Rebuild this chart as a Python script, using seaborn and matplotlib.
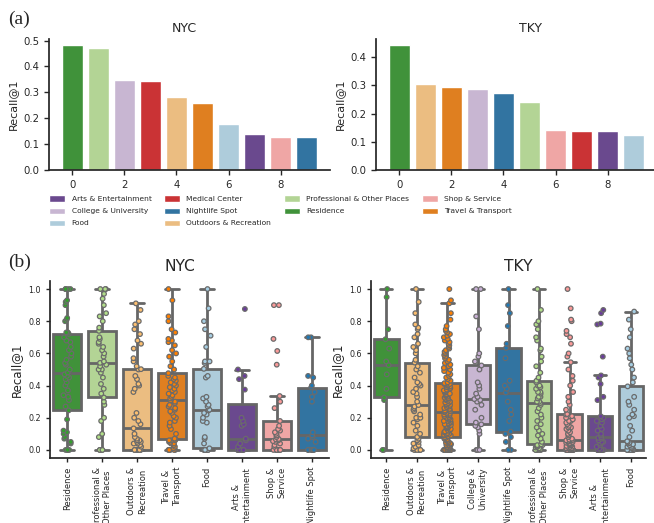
import numpy as np
import pandas as pd
import matplotlib
matplotlib.use("Agg")
import matplotlib.pyplot as plt
from matplotlib.patches import Patch
from matplotlib.ticker import MultipleLocator
import seaborn as sns


OUTPUT_PATH = "out.png"

PALETTE = {
    "Arts & Entertainment": "#6a3d9a",
    "College & University": "#cab2d6",
    "Food": "#a6cee3",
    "Medical Center": "#e31a1c",
    "Nightlife Spot": "#1f78b4",
    "Outdoors & Recreation": "#fdbf6f",
    "Professional & Other Places": "#b2df8a",
    "Residence": "#33a02c",
    "Shop & Service": "#fb9a99",
    "Travel & Transport": "#ff7f00",
}

# (a) mean Recall@1 per category, sorted
NYC_BAR_CATS = [
    "Residence", "Professional & Other Places", "College & University",
    "Medical Center", "Outdoors & Recreation", "Travel & Transport",
    "Food", "Arts & Entertainment", "Shop & Service", "Nightlife Spot",
]
NYC_BAR_VALUES = [0.484, 0.472, 0.349, 0.345, 0.283, 0.260, 0.179, 0.140, 0.129, 0.129]

TKY_BAR_CATS = [
    "Residence", "Outdoors & Recreation", "Travel & Transport",
    "College & University", "Nightlife Spot", "Professional & Other Places",
    "Shop & Service", "Medical Center", "Arts & Entertainment", "Food",
]
TKY_BAR_VALUES = [0.444, 0.306, 0.295, 0.288, 0.274, 0.242, 0.143, 0.139, 0.139, 0.125]

# (b) per-user Recall@1, NYC
NYC_BOX_ORDER = [
    "Residence", "Professional & Other Places", "Outdoors & Recreation",
    "Travel & Transport", "Food", "Arts & Entertainment",
    "Shop & Service", "Nightlife Spot",
]
NYC_BOX_LABELS = [
    "Residence", "Professional &\nOther Places", "Outdoors &\nRecreation",
    "Travel &\nTransport", "Food", "Arts &\nEntertainment",
    "Shop &\nService", "Nightlife Spot",
]
NYC_RESIDENCE = [
    0, 0, 0, 0, 0.04, 0.05, 0.07, 0.08, 0.10, 0.11, 0.12, 0.19, 0.246,
    0.27, 0.31, 0.33, 0.34, 0.37, 0.40, 0.42, 0.44, 0.45, 0.46, 0.47, 0.481,
    0.50, 0.53, 0.54, 0.56, 0.58, 0.60, 0.62, 0.64, 0.67, 0.68, 0.70, 0.721,
    0.73, 0.73, 0.80, 0.81, 0.82, 0.90, 0.92, 0.93, 1.0, 1.0, 1.0, 1.0,
]
NYC_PROFESSIONAL = [
    0, 0, 0, 0, 0.08, 0.10, 0.18, 0.20, 0.28, 0.30, 0.326,
    0.35, 0.38, 0.41, 0.45, 0.48, 0.50, 0.50, 0.52, 0.53, 0.541,
    0.55, 0.58, 0.60, 0.62, 0.64, 0.66, 0.67, 0.69, 0.70, 0.740,
    0.76, 0.80, 0.83, 0.85, 0.90, 0.94, 0.97, 1.0, 1.0, 1.0,
]
NYC_OUTDOORS = [
    0, 0, 0, 0, 0, 0, 0, 0, 0, 0, 0, 0, 0,
    0.02, 0.03, 0.04, 0.04, 0.05, 0.05, 0.06, 0.06, 0.07, 0.08, 0.10, 0.134,
    0.16, 0.18, 0.20, 0.23, 0.36, 0.38, 0.40, 0.41, 0.44, 0.46, 0.50, 0.502,
    0.52, 0.55, 0.57, 0.63, 0.66, 0.68, 0.72, 0.75, 0.78, 0.80, 0.87, 0.911,
]
NYC_TRAVEL = [
    0, 0, 0, 0, 0, 0.01, 0.02, 0.03, 0.04, 0.04, 0.05, 0.05, 0.06, 0.06,
    0.06, 0.07, 0.070,
    0.10, 0.13, 0.15, 0.17, 0.18, 0.20, 0.21, 0.23, 0.24, 0.25, 0.26, 0.27,
    0.28, 0.29, 0.30, 0.308,
    0.32, 0.33, 0.34, 0.35, 0.36, 0.37, 0.38, 0.39, 0.40, 0.41, 0.42, 0.43,
    0.44, 0.45, 0.46, 0.477,
    0.50, 0.52, 0.55, 0.58, 0.60, 0.62, 0.65, 0.67, 0.68, 0.69, 0.73, 0.75,
    0.80, 0.83, 0.93, 1.0,
]
NYC_FOOD = [
    0, 0, 0, 0, 0, 0, 0, 0, 0, 0.01,
    0.04, 0.07, 0.08, 0.17, 0.18, 0.20, 0.22, 0.23, 0.246,
    0.25, 0.27, 0.28, 0.30, 0.32, 0.33, 0.45, 0.46, 0.504,
    0.54, 0.55, 0.55, 0.64, 0.71, 0.75, 0.80, 0.88, 1.0,
]
NYC_ARTS = [
    0, 0, 0, 0, 0, 0, 0.02, 0.04, 0.06, 0.07,
    0.15, 0.16, 0.18, 0.20, 0.375, 0.44, 0.46, 0.50, 0.876,
]
NYC_SHOP = [
    0, 0, 0, 0, 0, 0, 0, 0, 0, 0.02, 0.03, 0.04, 0.05, 0.055, 0.06, 0.065,
    0.068, 0.08, 0.09, 0.10, 0.11, 0.12, 0.13, 0.15, 0.18,
    0.26, 0.30, 0.335, 0.53, 0.615, 0.69, 0.90, 0.90,
]
NYC_NIGHTLIFE = [
    0, 0, 0, 0, 0, 0, 0, 0.05, 0.07, 0.08, 0.091,
    0.11, 0.30, 0.33, 0.36, 0.388, 0.40, 0.45, 0.46, 0.70, 0.70,
]

# (b) per-user Recall@1, TKY
TKY_BOX_ORDER = [
    "Residence", "Outdoors & Recreation", "Travel & Transport",
    "College & University", "Nightlife Spot", "Professional & Other Places",
    "Shop & Service", "Arts & Entertainment", "Food",
]
TKY_BOX_LABELS = [
    "Residence", "Outdoors &\nRecreation", "Travel &\nTransport",
    "College &\nUniversity", "Nightlife Spot", "Professional &\nOther Places",
    "Shop &\nService", "Arts &\nEntertainment", "Food",
]
TKY_RESIDENCE = [0, 0, 0.31, 0.326, 0.38, 0.47, 0.527, 0.55, 0.63, 0.688, 0.75, 0.95, 1.0]
TKY_OUTDOORS = [
    0, 0, 0, 0, 0, 0, 0.01, 0.02, 0.03, 0.04, 0.05, 0.06, 0.07, 0.081,
    0.10, 0.12, 0.15, 0.17, 0.19, 0.20, 0.20, 0.22, 0.24, 0.25, 0.26, 0.27,
    0.279,
    0.30, 0.33, 0.35, 0.36, 0.38, 0.40, 0.41, 0.42, 0.45, 0.48, 0.50, 0.52,
    0.543,
    0.56, 0.60, 0.62, 0.64, 0.66, 0.70, 0.72, 0.75, 0.76, 0.78, 0.85, 0.92, 1.0,
]
TKY_TRAVEL = [
    0, 0, 0, 0, 0, 0, 0, 0, 0, 0, 0, 0, 0, 0, 0, 0, 0, 0, 0, 0,
    0.005, 0.01, 0.01, 0.015, 0.02, 0.02, 0.025, 0.03, 0.03, 0.035,
    0.04, 0.04, 0.045, 0.05, 0.05, 0.055, 0.06, 0.065, 0.07, 0.075,
    0.079,
    0.085, 0.09, 0.09, 0.095, 0.10, 0.10, 0.105, 0.11, 0.115, 0.12,
    0.12, 0.125, 0.13, 0.135, 0.14, 0.14, 0.145, 0.15, 0.155, 0.16,
    0.16, 0.165, 0.17, 0.175, 0.18, 0.18, 0.185, 0.19, 0.195, 0.20,
    0.20, 0.205, 0.21, 0.215, 0.22, 0.22, 0.225, 0.23, 0.235,
    0.238,
    0.24, 0.245, 0.25, 0.255, 0.26, 0.265, 0.27, 0.275, 0.28, 0.285,
    0.29, 0.295, 0.30, 0.30, 0.305, 0.31, 0.315, 0.32, 0.325, 0.33,
    0.335, 0.34, 0.345, 0.35, 0.355, 0.36, 0.365, 0.37, 0.375, 0.38,
    0.385, 0.39, 0.39, 0.395, 0.40, 0.40, 0.405, 0.41, 0.41,
    0.415,
    0.42, 0.43, 0.44, 0.45, 0.46, 0.47, 0.48, 0.49, 0.50, 0.51,
    0.52, 0.53, 0.54, 0.55, 0.56, 0.57, 0.58, 0.59, 0.60, 0.61,
    0.62, 0.63, 0.64, 0.65, 0.66, 0.67, 0.68, 0.69, 0.70, 0.71,
    0.72, 0.73, 0.74, 0.75, 0.77, 0.81, 0.85, 0.911, 0.93, 1.0,
]
TKY_COLLEGE = [
    0, 0, 0, 0.10, 0.12, 0.14, 0.15, 0.159, 0.17, 0.20, 0.25, 0.28, 0.30,
    0.31, 0.316, 0.33, 0.35, 0.38, 0.40, 0.42, 0.50, 0.525, 0.55, 0.58,
    0.60, 0.75, 0.83, 1.0, 1.0,
]
TKY_NIGHTLIFE = [
    0, 0, 0.05, 0.08, 0.10, 0.114, 0.18, 0.22, 0.25, 0.30, 0.357,
    0.38, 0.40, 0.43, 0.57, 0.634, 0.66, 0.77, 0.85, 0.90, 1.0,
]
TKY_PROFESSIONAL = [
    0, 0, 0, 0, 0, 0, 0.005, 0.01, 0.015, 0.02, 0.02, 0.025, 0.03, 0.03,
    0.035,
    0.05, 0.07, 0.09, 0.10, 0.12, 0.14, 0.16, 0.18, 0.20, 0.22, 0.24, 0.26,
    0.28, 0.291,
    0.30, 0.30, 0.32, 0.33, 0.33, 0.35, 0.36, 0.36, 0.38, 0.39, 0.40, 0.40,
    0.42, 0.430,
    0.45, 0.48, 0.52, 0.55, 0.58, 0.62, 0.63, 0.68, 0.70, 0.75, 0.78, 0.80,
    0.87, 1.0,
]
TKY_SHOP = [
    0, 0, 0, 0, 0, 0, 0, 0, 0, 0, 0, 0, 0, 0, 0, 0, 0, 0, 0, 0, 0,
    0.005, 0.01, 0.01, 0.015, 0.02, 0.02, 0.025, 0.03, 0.03, 0.035, 0.04,
    0.04, 0.045, 0.05, 0.05, 0.055, 0.06, 0.06, 0.062,
    0.064,
    0.07, 0.08, 0.09, 0.10, 0.10, 0.11, 0.12, 0.13, 0.14, 0.14, 0.15, 0.16,
    0.17, 0.18, 0.18, 0.19, 0.20, 0.21, 0.22,
    0.223,
    0.25, 0.28, 0.30, 0.33, 0.36, 0.40, 0.43, 0.46, 0.50, 0.545, 0.58, 0.60,
    0.66, 0.70, 0.72, 0.74, 0.80, 0.81, 0.88, 1.0,
]
TKY_ARTS = [
    0, 0, 0, 0, 0, 0, 0, 0, 0, 0, 0,
    0.01, 0.02, 0.03, 0.04, 0.05, 0.05, 0.06, 0.07, 0.075, 0.079,
    0.09, 0.10, 0.12, 0.13, 0.15, 0.17, 0.18, 0.19, 0.20, 0.209,
    0.31, 0.33, 0.41, 0.45, 0.463, 0.58, 0.78, 0.785, 0.85, 0.87,
]
TKY_FOOD = [
    0, 0, 0, 0, 0, 0, 0, 0, 0, 0, 0, 0,
    0.005, 0.01, 0.015, 0.02, 0.025, 0.03, 0.035, 0.04, 0.045, 0.05, 0.054,
    0.08, 0.12, 0.15, 0.20, 0.21, 0.22, 0.25, 0.28, 0.30, 0.33, 0.395,
    0.42, 0.45, 0.50, 0.53, 0.57, 0.60, 0.63, 0.70, 0.75, 0.81, 0.86,
]

NYC_BOX_VALUES = [
    NYC_RESIDENCE, NYC_PROFESSIONAL, NYC_OUTDOORS, NYC_TRAVEL,
    NYC_FOOD, NYC_ARTS, NYC_SHOP, NYC_NIGHTLIFE,
]
TKY_BOX_VALUES = [
    TKY_RESIDENCE, TKY_OUTDOORS, TKY_TRAVEL, TKY_COLLEGE, TKY_NIGHTLIFE,
    TKY_PROFESSIONAL, TKY_SHOP, TKY_ARTS, TKY_FOOD,
]

FIG_W, FIG_H = 654, 523


def px_axes(fig, left, top, right, bottom):
    # axes box given in pixel coordinates of the final image
    return fig.add_axes([
        left / FIG_W, 1 - bottom / FIG_H,
        (right - left) / FIG_W, (bottom - top) / FIG_H,
    ])


def draw_bars(ax, cats, values, title, title_x):
    ranks = list(range(len(values)))
    sns.barplot(
        x=ranks, y=values, hue=cats, palette=PALETTE,
        dodge=False, native_scale=True, legend=False, ax=ax
    )
    ax.set_xlim(-0.89, 9.89)
    ax.yaxis.set_major_locator(MultipleLocator(0.1))
    ax.xaxis.set_major_locator(MultipleLocator(2))
    ax.set_title(title, fontsize=9, x=title_x, pad=5)
    ax.set_ylabel("Recall@1", fontsize=8)
    ax.set_xlabel("")
    ax.tick_params(labelsize=7.3, length=3.5, width=1)


def draw_boxes(ax, order, labels, series, title, title_x):
    df = pd.DataFrame({
        "category": np.repeat(order, [len(s) for s in series]),
        "recall": np.concatenate(series),
    })

    sns.boxplot(
        data=df, x="category", y="recall", hue="category",
        order=order, hue_order=order, palette=PALETTE,
        showfliers=False, width=0.8, linewidth=2, linecolor="0.4",
        legend=False, ax=ax
    )
    sns.stripplot(
        data=df, x="category", y="recall", hue="category",
        order=order, hue_order=order, palette=PALETTE,
        size=3.3, jitter=0.12, linewidth=0.9, edgecolor="0.42",
        legend=False, ax=ax
    )

    ax.yaxis.set_major_locator(MultipleLocator(0.2))
    ax.set_xticks(range(len(order)))
    ax.set_xticklabels(labels, rotation=90, fontsize=6)
    ax.tick_params(axis="y", labelsize=5.8)
    ax.tick_params(length=3, width=1)
    ax.set_title(title, fontsize=11.2, x=title_x, pad=7)
    ax.set_ylabel("Recall@1", fontsize=8.5)
    ax.set_xlabel("")


def add_legend(fig):
    handles = [
        Patch(facecolor=sns.desaturate(color, 0.75), label=name)
        for name, color in PALETTE.items()
    ]
    fig.legend(
        handles=handles, loc="upper left",
        bbox_to_anchor=(49 / FIG_W, 1 - 195.5 / FIG_H),
        ncol=4, frameon=False, fontsize=5.4,
        borderaxespad=0, borderpad=0,
        handlelength=2.1, handleheight=0.9, handletextpad=0.9,
        columnspacing=1.67, labelspacing=0.72,
    )


def main():
    sns.set_theme(style="ticks")
    plt.rcParams["font.family"] = ["DejaVu Sans"]
    np.random.seed(3)

    fig = plt.figure(figsize=(FIG_W / 100, FIG_H / 100), dpi=100)

    ax_nyc_bar = px_axes(fig, 49, 38.5, 330, 170)
    ax_tky_bar = px_axes(fig, 376, 38.5, 657, 170)
    ax_nyc_box = px_axes(fig, 50, 281, 329, 458)
    ax_tky_box = px_axes(fig, 371, 281, 646, 458)

    draw_bars(ax_nyc_bar, NYC_BAR_CATS, NYC_BAR_VALUES, "NYC", 0.48)
    draw_bars(ax_tky_bar, TKY_BAR_CATS, TKY_BAR_VALUES, "TKY", 0.55)
    draw_boxes(ax_nyc_box, NYC_BOX_ORDER, NYC_BOX_LABELS, NYC_BOX_VALUES, "NYC", 0.466)
    draw_boxes(ax_tky_box, TKY_BOX_ORDER, TKY_BOX_LABELS, TKY_BOX_VALUES, "TKY", 0.535)

    add_legend(fig)
    sns.despine(fig=fig)

    fig.text(8 / FIG_W, 1 - 19 / FIG_H, "(a)", family="Liberation Serif",
             fontsize=14, va="center", ha="left")
    fig.text(8 / FIG_W, 1 - 262 / FIG_H, "(b)", family="Liberation Serif",
             fontsize=14, va="center", ha="left")

    fig.savefig(OUTPUT_PATH, dpi=100)
    plt.close(fig)


if __name__ == "__main__":
    main()
